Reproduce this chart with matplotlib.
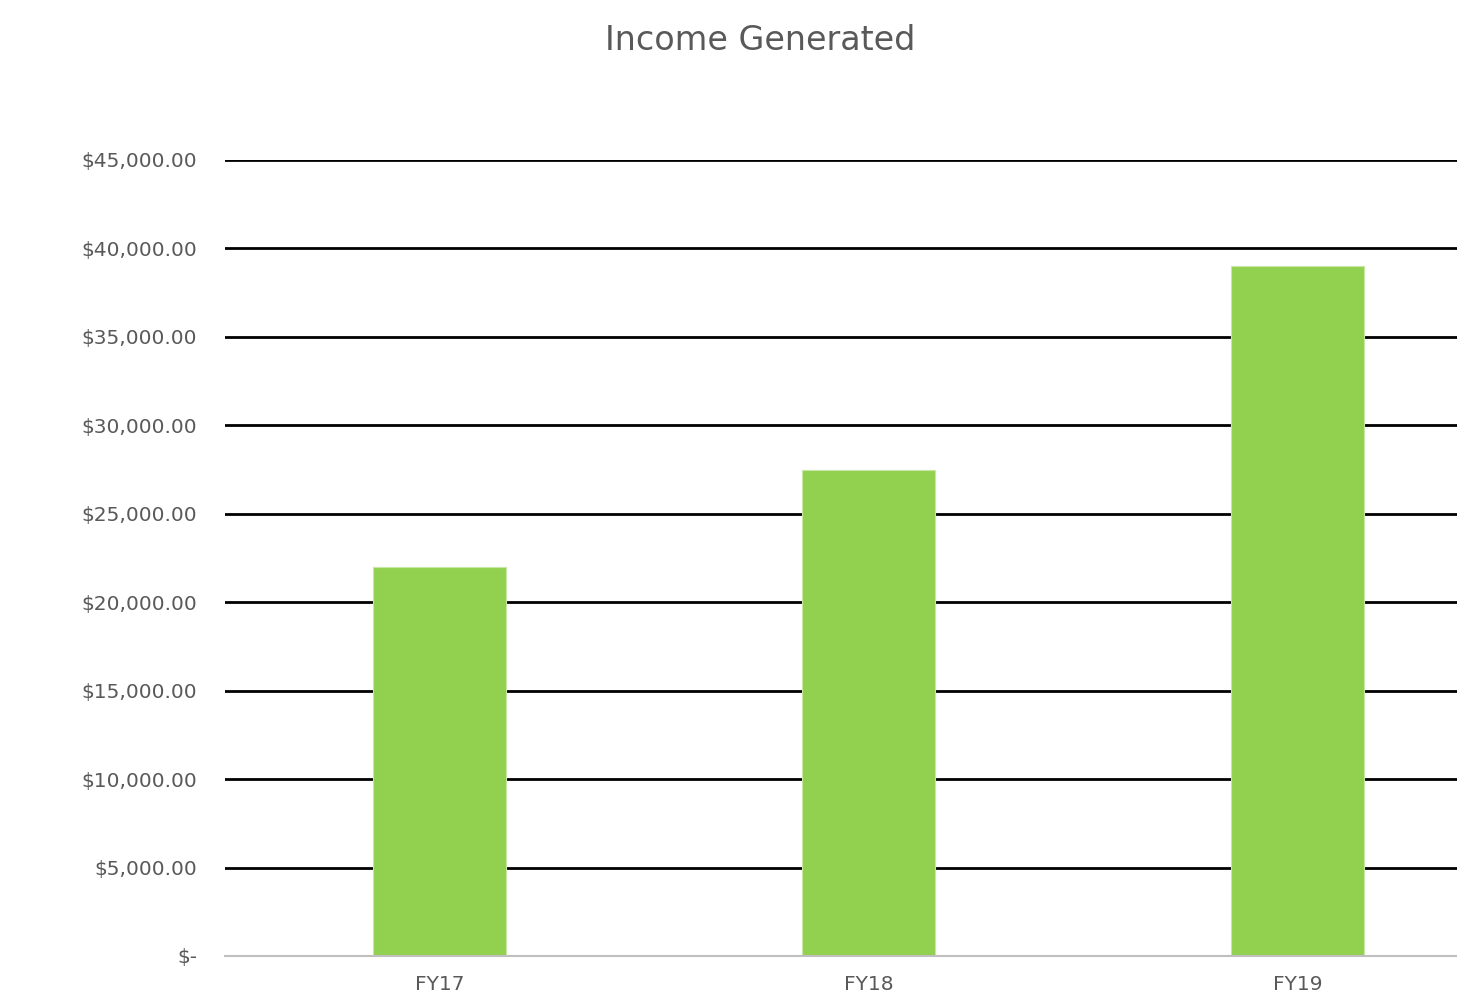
import numpy as np
import matplotlib.pyplot as plt
from matplotlib.ticker import FuncFormatter

years = ["FY17", "FY18", "FY19"]
income = [22000, 27500, 39000]
y_ticks = list(range(0, 45001, 5000))

text_grey = "#595959"
plt.rcParams['font.family'] = ['DejaVu Sans']

fig = plt.figure(figsize=(14.57, 9.98), dpi=100)
# the chart is cut off at the right edge, so the axes run past the figure
ax = fig.add_axes([225 / 1457, 42 / 998, 1287 / 1457, 796 / 998])

x = np.arange(len(years))
ax.bar(x, income, width=0.31, color="#92D050", edgecolor="#c8e6a6", linewidth=0.8, zorder=3)

ax.set_xlim(-0.5, 2.5)
ax.set_ylim(0, 45000)
ax.set_yticks(y_ticks)
ax.set_xticks(x)
ax.set_xticklabels(years)

def money(v, pos):
    if v == 0:
        return "$-"
    return "${:,.2f}".format(v)

ax.yaxis.set_major_formatter(FuncFormatter(money))
ax.grid(axis="y", color="black", linewidth=2, zorder=0)
ax.set_axisbelow(True)

for s in ["top", "right", "left"]:
    ax.spines[s].set_visible(False)
ax.spines["bottom"].set_color("#bfbfbf")
ax.spines["bottom"].set_linewidth(1.5)
ax.spines["bottom"].set_zorder(4)

ax.tick_params(axis="both", length=0, labelsize=14.5, labelcolor=text_grey)
ax.tick_params(axis="y", pad=20)
ax.tick_params(axis="x", pad=14)

fig.text(760 / 1457, 1 - 40 / 998, "Income Generated", ha="center", va="center",
         fontsize=24, color=text_grey)

fig.savefig("out.png", dpi=100)
